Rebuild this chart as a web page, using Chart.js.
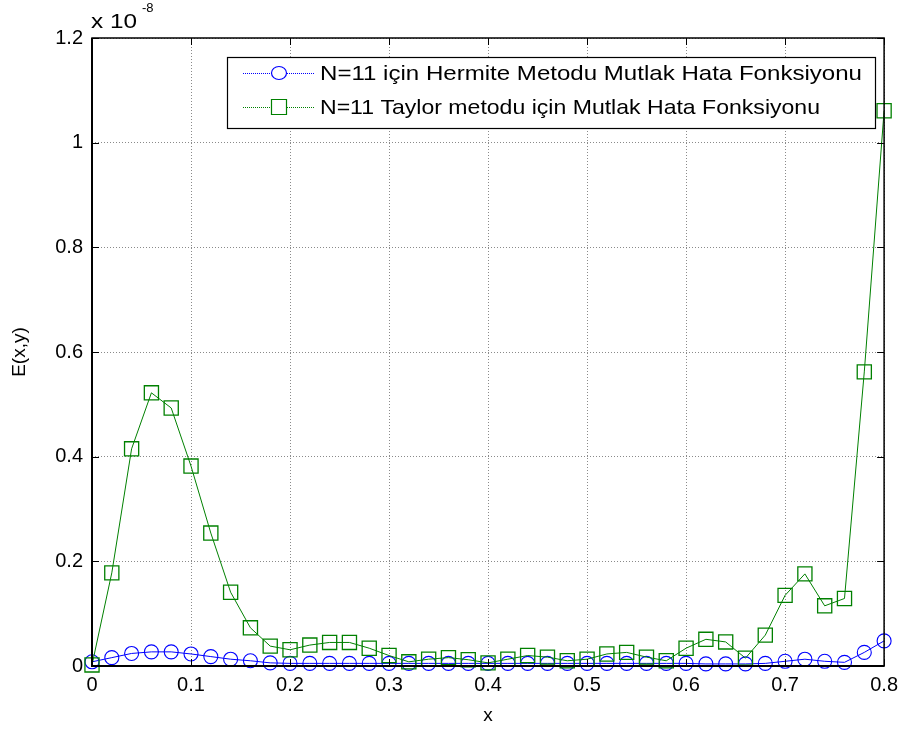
<!DOCTYPE html>
<html>
<head>
<meta charset="utf-8">
<script src="https://cdn.jsdelivr.net/npm/chart.js@4/dist/chart.umd.min.js"></script>
<style>
  html, body { margin: 0; padding: 0; background: #ffffff; }
  #wrap { width: 905px; height: 735px; position: relative; }
</style>
</head>
<body>
<div id="wrap"><canvas id="c" width="905" height="735"></canvas></div>
<script>
// x grid points
const xValues = [0, 0.02, 0.04, 0.06, 0.08, 0.10, 0.12, 0.14, 0.16, 0.18,
                 0.20, 0.22, 0.24, 0.26, 0.28, 0.30, 0.32, 0.34, 0.36, 0.38,
                 0.40, 0.42, 0.44, 0.46, 0.48, 0.50, 0.52, 0.54, 0.56, 0.58,
                 0.60, 0.62, 0.64, 0.66, 0.68, 0.70, 0.72, 0.74, 0.76, 0.78, 0.80];
// Absolute error, in units of 1e-8
const hermiteErr = [0.008, 0.016, 0.024, 0.027, 0.027, 0.023, 0.018, 0.013, 0.010, 0.006,
                    0.005, 0.005, 0.005, 0.005, 0.005, 0.005, 0.005, 0.005, 0.005, 0.005,
                    0.005, 0.005, 0.005, 0.005, 0.005, 0.005, 0.005, 0.005, 0.005, 0.005,
                    0.005, 0.004, 0.004, 0.004, 0.005, 0.009, 0.013, 0.009, 0.007, 0.026, 0.048];
const taylorErr = [0.002, 0.178, 0.415, 0.522, 0.493, 0.382, 0.254, 0.141, 0.073, 0.038,
                   0.031, 0.040, 0.045, 0.045, 0.034, 0.020, 0.008, 0.013, 0.016, 0.012,
                   0.006, 0.013, 0.020, 0.017, 0.010, 0.013, 0.023, 0.026, 0.017, 0.010,
                   0.034, 0.051, 0.046, 0.015, 0.059, 0.135, 0.176, 0.115, 0.129, 0.562, 1.061];
const seriesLabels = ['N=11 için Hermite Metodu Mutlak Hata Fonksiyonu',
                      'N=11 Taylor metodu için Mutlak Hata Fonksiyonu'];
const xTickLabels = ['0', '0.1', '0.2', '0.3', '0.4', '0.5', '0.6', '0.7', '0.8'];
const yTickLabels = ['0', '0.2', '0.4', '0.6', '0.8', '1', '1.2'];
const xTitle = 'x';
const yTitle = 'E(x,y)';
const yExponent = '-8';

const FONT = '"Liberation Sans", Arial, sans-serif';
const BLUE = '#0000ff';
const GREEN = '#008000';

const framePlugin = {
  id: 'frame',
  afterDatasetsDraw(chart) {
    const ctx = chart.ctx;
    const a = chart.chartArea;
    const xs = chart.scales.x, ys = chart.scales.y;
    ctx.save();
    ctx.strokeStyle = '#000';
    ctx.lineWidth = 1;
    const tl = 7;
    ctx.beginPath();
    xs.ticks.forEach(t => {
      const px = Math.round(xs.getPixelForValue(t.value)) + 0.5;
      ctx.moveTo(px, a.bottom); ctx.lineTo(px, a.bottom - tl);
      ctx.moveTo(px, a.top); ctx.lineTo(px, a.top + tl);
    });
    ys.ticks.forEach(t => {
      const py = Math.round(ys.getPixelForValue(t.value)) + 0.5;
      ctx.moveTo(a.left, py); ctx.lineTo(a.left + tl, py);
      ctx.moveTo(a.right, py); ctx.lineTo(a.right - tl, py);
    });
    ctx.stroke();
    ctx.lineWidth = 1.5;
    ctx.strokeRect(a.left, a.top, a.right - a.left, a.bottom - a.top);
    ctx.lineWidth = 2;
    ctx.beginPath();
    ctx.moveTo(a.left, a.top); ctx.lineTo(a.left, a.bottom); ctx.lineTo(a.right, a.bottom);
    ctx.stroke();

    // exponent label
    ctx.fillStyle = '#000';
    ctx.textBaseline = 'alphabetic';
    ctx.textAlign = 'left';
    ctx.font = '20px ' + FONT;
    const w = ctx.measureText('x 10').width;
    ctx.save();
    ctx.translate(a.left - 1, 28);
    ctx.scale(46 / w, 1);
    ctx.fillText('x 10', 0, 0);
    ctx.restore();
    ctx.font = '13px ' + FONT;
    ctx.fillText(yExponent, a.left + 50, 12);

    // legend
    const bx = 227, by = 57, bw = 648, bh = 71;
    ctx.fillStyle = '#fff';
    ctx.fillRect(bx, by, bw, bh);
    ctx.lineWidth = 1.2;
    ctx.strokeStyle = '#000';
    ctx.strokeRect(bx + 0.5, by + 0.5, bw, bh);
    const rows = [73, 107];
    chart.data.datasets.forEach((ds, i) => {
      const y = rows[i];
      ctx.strokeStyle = ds.borderColor;
      ctx.lineWidth = 1;
      ctx.setLineDash([1, 1]);
      ctx.beginPath();
      ctx.moveTo(243, y + 0.5); ctx.lineTo(315, y + 0.5);
      ctx.stroke();
      ctx.setLineDash([]);
      ctx.lineWidth = 1.2;
      ctx.beginPath();
      if (ds.pointStyle === 'circle') {
        ctx.ellipse(279, y, 7.5, 6.5, 0, 0, Math.PI * 2);
      } else {
        ctx.rect(279 - 7.5, y - 7.5, 15, 15);
      }
      ctx.fillStyle = '#fff';
      ctx.fill();
      ctx.stroke();
      ctx.fillStyle = '#000';
      ctx.font = '21px ' + FONT;
      ctx.textBaseline = 'middle';
      const tw = ctx.measureText(ds.label).width;
      const target = i === 0 ? 542 : 500;
      ctx.save();
      ctx.translate(320, y + 1);
      ctx.scale(target / tw, 1);
      ctx.fillText(ds.label, 0, 0);
      ctx.restore();
    });
    ctx.restore();
  }
};

new Chart(document.getElementById('c'), {
  type: 'line',
  data: {
    datasets: [
      {
        label: seriesLabels[0],
        data: xValues.map((x, i) => ({ x: x, y: hermiteErr[i] })),
        borderColor: BLUE,
        backgroundColor: 'rgba(0,0,0,0)',
        borderWidth: 1,
        pointStyle: 'circle',
        pointRadius: 7,
        pointBorderWidth: 1.1,
        pointBorderColor: BLUE,
        pointBackgroundColor: 'rgba(0,0,0,0)',
        tension: 0,
        clip: false,
        order: 1
      },
      {
        label: seriesLabels[1],
        data: xValues.map((x, i) => ({ x: x, y: taylorErr[i] })),
        borderColor: GREEN,
        backgroundColor: 'rgba(0,0,0,0)',
        borderWidth: 1,
        pointStyle: 'rect',
        pointRadius: 10,
        pointBorderWidth: 1.3,
        pointBorderColor: GREEN,
        pointBackgroundColor: 'rgba(0,0,0,0)',
        tension: 0,
        clip: false,
        order: 0
      }
    ]
  },
  options: {
    responsive: false,
    animation: false,
    devicePixelRatio: 1,
    layout: { padding: { top: 38, right: 20, left: 0, bottom: 0 } },
    plugins: {
      legend: { display: false },
      tooltip: { enabled: false }
    },
    scales: {
      x: {
        type: 'linear',
        min: 0, max: 0.8,
        ticks: {
          stepSize: 0.1, color: '#000', font: { family: FONT, size: 20 }, padding: 7, maxRotation: 0,
          callback: (v, i) => xTickLabels[i]
        },
        grid: { color: '#8a8a8a', lineWidth: 1, drawTicks: false },
        border: { display: false, dash: [1, 2] },
        title: { display: true, text: xTitle, color: '#000', font: { family: FONT, size: 19 }, padding: { top: 0, bottom: 8 } },
        afterFit(s) { s.height = 69; }
      },
      y: {
        type: 'linear',
        min: 0, max: 1.2,
        ticks: {
          stepSize: 0.2, color: '#000', font: { family: FONT, size: 20 }, padding: 9,
          callback: (v, i) => yTickLabels[i]
        },
        grid: { color: '#8a8a8a', lineWidth: 1, drawTicks: false },
        border: { display: false, dash: [1, 2] },
        title: { display: true, text: yTitle, color: '#000', font: { family: FONT, size: 19 }, padding: { top: 8, bottom: 0 } },
        afterFit(s) { s.width = 92; }
      }
    }
  },
  plugins: [framePlugin]
});
</script>
</body>
</html>
